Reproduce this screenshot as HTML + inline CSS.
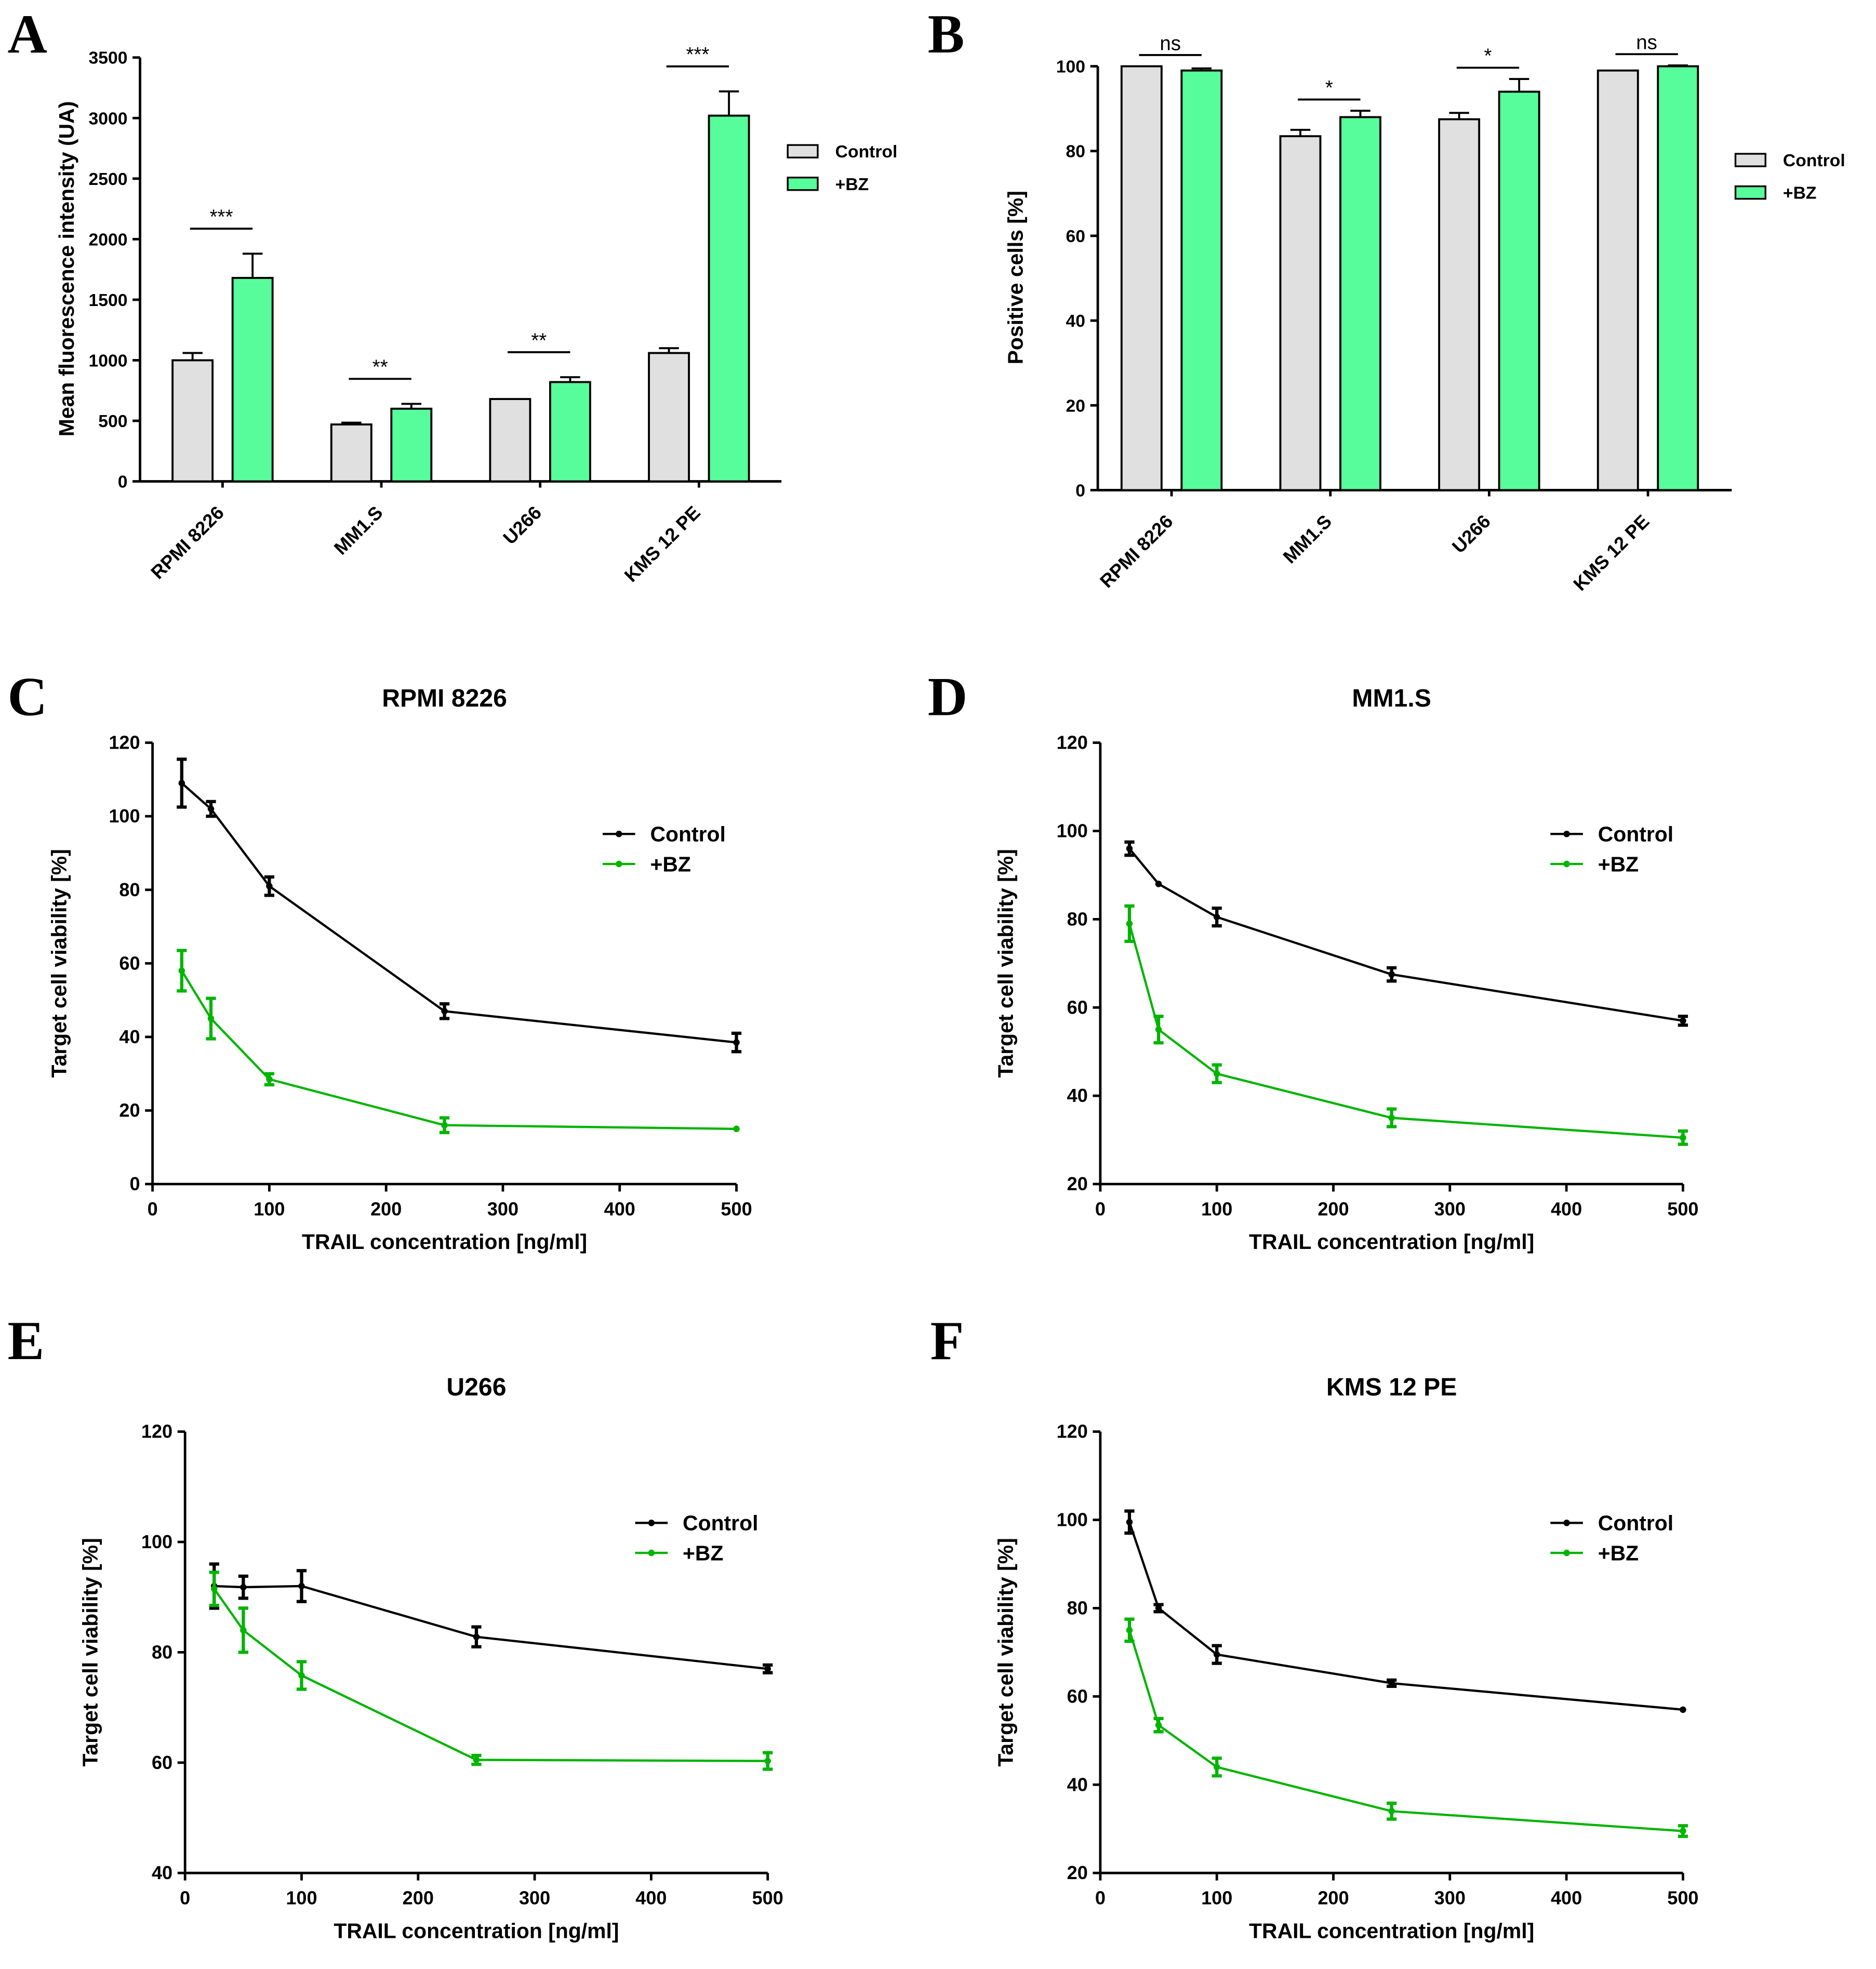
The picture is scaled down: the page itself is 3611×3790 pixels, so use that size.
<!DOCTYPE html>
<html><head><meta charset="utf-8">
<style>
html,body{margin:0;padding:0;background:#fff;}
svg{display:block;font-family:"Liberation Sans",Arial,sans-serif;}
</style></head>
<body>
<svg id="fig" width="3611" height="3790" viewBox="0 0 1500.4 1574.8" preserveAspectRatio="none" xmlns="http://www.w3.org/2000/svg">
<rect x="0" y="0" width="1501" height="1575" fill="#fff"/>
</svg>
<script>
// ---- Data ----
const barCats = ["RPMI 8226","MM1.S","U266","KMS 12 PE"];
const mfiControl = [1000,470,680,1060];
const mfiControlErr = [60,15,0,40];
const mfiBZ = [1680,600,820,3020];
const mfiBZErr = [200,40,40,200];
const mfiSig = ["***","**","**","***"];
const mfiTicks = [0,500,1000,1500,2000,2500,3000,3500];

const posControl = [100,83.5,87.5,99];
const posControlErr = [0,1.5,1.5,0];
const posBZ = [99,88,94,100];
const posBZErr = [0.5,1.5,3,0.2];
const posSig = ["ns","*","*","ns"];
const posTicks = [0,20,40,60,80,100];

const trailConc = [25,50,100,250,500];
const xTicks = [0,100,200,300,400,500];
const rpmiCtl = [109,102,81,47,38.5], rpmiCtlErr=[6.5,2,2.5,2,2.5];
const rpmiBZ = [58,45,28.5,16,15], rpmiBZErr=[5.5,5.5,1.5,2,0];
const mm1Ctl = [96,88,80.5,67.5,57], mm1CtlErr=[1.5,0,2,1.5,1];
const mm1BZ = [79,55,45,35,30.5], mm1BZErr=[4,3,2,2,1.5];
const u266Ctl = [92,91.8,92,82.8,77], u266CtlErr=[4,2,2.8,1.8,0.7];
const u266BZ = [91.5,84,75.8,60.5,60.3], u266BZErr=[3,4,2.5,0.8,1.5];
const kmsCtl = [99.5,80,69.5,63,57], kmsCtlErr=[2.5,0.8,2,0.7,0];
const kmsBZ = [75,53.5,44,34,29.5], kmsBZErr=[2.5,1.5,2,1.8,1.2];
const ticks0_120 = [0,20,40,60,80,100,120];
const ticks20_120 = [20,40,60,80,100,120];
const ticks40_120 = [40,60,80,100,120];

const NS="http://www.w3.org/2000/svg";
const svg=document.getElementById('fig');
function el(tag,attrs,parent,text){
  const e=document.createElementNS(NS,tag);
  for(const k in attrs)e.setAttribute(k,attrs[k]);
  if(text!==undefined)e.textContent=text;
  (parent||svg).appendChild(e);return e;
}
function group(name){const g=el('g',{});


return g;}
function txt(g,x,y,s,size,name,opts){
  const t=el('text',Object.assign({x:x,y:y,'font-size':size,'font-weight':'bold','fill':'#000'},opts||{}),g,s);
  
  
  return t;
}
function line(g,x1,y1,x2,y2,stroke,w,name){
  const l=el('line',{x1:x1,y1:y1,x2:x2,y2:y2,stroke:stroke,'stroke-width':w},g);
  
  
  return l;
}
function letter(s,x,y){
  const t=el('text',{x:x,y:y,'font-size':44,'font-weight':'bold','font-family':'"Liberation Serif",serif'},svg,s);
  
  
}

function barPanel(cfg){
  const g=group(cfg.name);
  const ys=v=>cfg.y0-(v-cfg.vmin)/(cfg.vmax-cfg.vmin)*(cfg.y0-cfg.y1);
  line(g,cfg.x0,cfg.y1,cfg.x0,cfg.y0,'#000',2,'y-axis');
  line(g,cfg.x0,cfg.y0,cfg.xEnd,cfg.y0,'#000',2,'x-axis');
  cfg.ticks.forEach(t=>{
    line(g,cfg.x0-6,ys(t),cfg.x0,ys(t),'#000',2,'y-tick');
    txt(g,cfg.x0-10,ys(t)+5,String(t),14,'y-tick-label',{'text-anchor':'end'});
  });
  txt(g,0,0,cfg.ylabel,17,'y-axis-title',{'text-anchor':'middle',transform:`translate(${cfg.ylx},${cfg.yly}) rotate(-90)`});
  barCats.forEach((c,i)=>{
    const gx=cfg.firstX+i*cfg.gap;
    const series=[[cfg.ctl[i],cfg.ctlE[i],'#e0e0e0','control'],[cfg.bz[i],cfg.bzE[i],'#57fd9a','bz']];
    series.forEach((s,j)=>{
      const x=gx+j*48, w=32;
      const r=el('rect',{x:x,y:ys(s[0]),width:w,height:cfg.y0-ys(s[0]),fill:s[2],stroke:'#000','stroke-width':1.6},g);
      
      
      if(s[1]>0){
        line(g,x+w/2,ys(s[0]),x+w/2,ys(s[0]+s[1]),'#000',1.6,'error-bar');
        line(g,x+w/2-8,ys(s[0]+s[1]),x+w/2+8,ys(s[0]+s[1]),'#000',1.6,'error-cap');
      }
    });
    const top=Math.max(cfg.ctl[i]+cfg.ctlE[i],cfg.bz[i]+cfg.bzE[i]);
    const ly=ys(top)-cfg.sigOff;
    line(g,gx+14,ly,gx+64,ly,'#000',1.6,'significance-line');
    txt(g,gx+39,ly-4,cfg.sig[i],16,'significance-label',{'text-anchor':'middle','font-weight':'normal'});
    txt(g,0,0,c,15,'x-tick-label',{'text-anchor':'end',transform:`translate(${gx+42},${cfg.y0+26}) rotate(-45)`});
    line(g,gx+40,cfg.y0,gx+40,cfg.y0+5,'#000',2,'x-tick');
  });
  [['Control','#e0e0e0',0],['+BZ','#57fd9a',26]].forEach(l=>{
    const r=el('rect',{x:cfg.lx,y:cfg.ly+l[2]-10,width:24,height:10,fill:l[1],stroke:'#000','stroke-width':1.4},g);
    
    
    txt(g,cfg.lx+38,cfg.ly+l[2],l[0],14,'legend-entry');
  });
}

barPanel({name:'panel-a-chart',x0:112,xEnd:625,y0:385,y1:46,vmin:0,vmax:3500,ticks:mfiTicks,
  ctl:mfiControl,ctlE:mfiControlErr,bz:mfiBZ,bzE:mfiBZErr,sig:mfiSig,firstX:138,gap:127,sigOff:20,
  ylabel:'Mean fluorescence intensity (UA)',ylx:59,yly:215,lx:630,ly:126});
barPanel({name:'panel-b-chart',x0:878,xEnd:1385,y0:392,y1:53,vmin:0,vmax:100,ticks:posTicks,
  ctl:posControl,ctlE:posControlErr,bz:posBZ,bzE:posBZErr,sig:posSig,firstX:897,gap:127,sigOff:9,
  ylabel:'Positive cells [%]',ylx:818,yly:222,lx:1388,ly:133});

function linePanel(cfg){
  const g=group(cfg.name);
  const xs=v=>cfg.x0+v/500*(cfg.x1-cfg.x0);
  const ys=v=>cfg.y0-(v-cfg.vmin)/(cfg.vmax-cfg.vmin)*(cfg.y0-cfg.y1);
  line(g,cfg.x0,cfg.y1,cfg.x0,cfg.y0,'#000',2,'y-axis');
  line(g,cfg.x0,cfg.y0,cfg.x1,cfg.y0,'#000',2,'x-axis');
  cfg.ticks.forEach(t=>{
    line(g,cfg.x0-6,ys(t),cfg.x0,ys(t),'#000',2,'y-tick');
    txt(g,cfg.x0-10,ys(t)+5,String(t),15,'y-tick-label',{'text-anchor':'end'});
  });
  xTicks.forEach(t=>{
    line(g,xs(t),cfg.y0,xs(t),cfg.y0+6,'#000',2,'x-tick');
    txt(g,xs(t),cfg.y0+25,String(t),15,'x-tick-label',{'text-anchor':'middle'});
  });
  txt(g,(cfg.x0+cfg.x1)/2,cfg.y0+52,'TRAIL concentration [ng/ml]',17,'x-axis-title',{'text-anchor':'middle'});
  txt(g,0,0,'Target cell viability [%]',17,'y-axis-title',{'text-anchor':'middle',transform:`translate(${cfg.ylx},${(cfg.y0+cfg.y1)/2}) rotate(-90)`});
  txt(g,(cfg.x0+cfg.x1)/2,cfg.y1-29,cfg.title,20,'chart-title',{'text-anchor':'middle'});
  [[cfg.ctl,cfg.ctlE,'#000','control'],[cfg.bz,cfg.bzE,'#00b400','bz']].forEach(s=>{
    const pts=trailConc.map((c,i)=>xs(c)+','+ys(s[0][i])).join(' ');
    const p=el('polyline',{points:pts,fill:'none',stroke:s[2],'stroke-width':1.8},g);
    
    
    trailConc.forEach((c,i)=>{
      const x=xs(c),v=s[0][i],e=s[1][i];
      if(e>0){
        line(g,x,ys(v-e),x,ys(v+e),s[2],2.6,'error-bar');
        line(g,x-4,ys(v+e),x+4,ys(v+e),s[2],2.6,'error-cap');
        line(g,x-4,ys(v-e),x+4,ys(v-e),s[2],2.6,'error-cap');
      }
      const d=el('circle',{cx:x,cy:ys(v),r:2.6,fill:s[2]},g);
      
      
    });
  });
  [['Control','#000',0],['+BZ','#00b400',24]].forEach(l=>{
    line(g,cfg.lx,cfg.ly+l[2]-6,cfg.lx+26,cfg.ly+l[2]-6,l[1],1.8,'legend-line');
    const d=el('circle',{cx:cfg.lx+13,cy:cfg.ly+l[2]-6,r:2.6,fill:l[1]},g);
    
    
    txt(g,cfg.lx+38,cfg.ly+l[2],l[0],17,'legend-entry');
  });
}

linePanel({name:'panel-c-chart',title:'RPMI 8226',x0:122,x1:589,y0:947,y1:594,vmin:0,vmax:120,ticks:ticks0_120,
  ctl:rpmiCtl,ctlE:rpmiCtlErr,bz:rpmiBZ,bzE:rpmiBZErr,ylx:53,lx:482,ly:673});
linePanel({name:'panel-d-chart',title:'MM1.S',x0:880,x1:1346,y0:947,y1:594,vmin:20,vmax:120,ticks:ticks20_120,
  ctl:mm1Ctl,ctlE:mm1CtlErr,bz:mm1BZ,bzE:mm1BZErr,ylx:810,lx:1240,ly:673});
linePanel({name:'panel-e-chart',title:'U266',x0:148,x1:614,y0:1498,y1:1145,vmin:40,vmax:120,ticks:ticks40_120,
  ctl:u266Ctl,ctlE:u266CtlErr,bz:u266BZ,bzE:u266BZErr,ylx:78,lx:508,ly:1224});
linePanel({name:'panel-f-chart',title:'KMS 12 PE',x0:880,x1:1346,y0:1498,y1:1145,vmin:20,vmax:120,ticks:ticks20_120,
  ctl:kmsCtl,ctlE:kmsCtlErr,bz:kmsBZ,bzE:kmsBZErr,ylx:810,lx:1240,ly:1224});

letter('A',6,42);letter('B',742,42);letter('C',6,572);letter('D',742,572);letter('E',6,1087);letter('F',744,1087);
</script>
</body></html>
